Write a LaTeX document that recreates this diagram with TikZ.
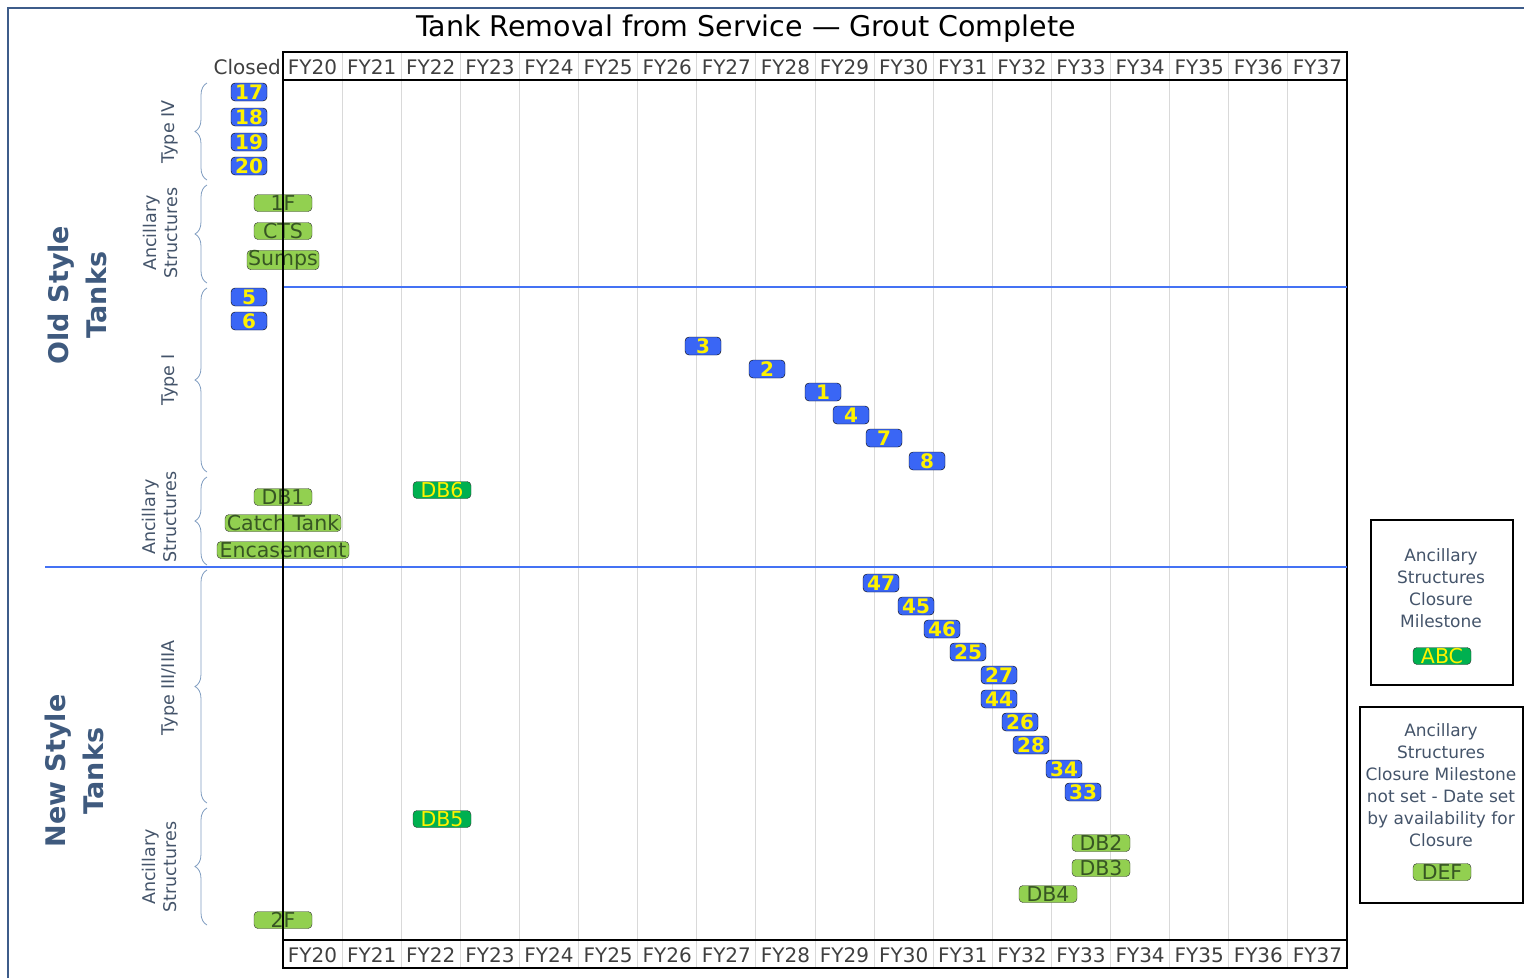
\documentclass[tikz,border=0pt]{standalone}
\usepackage{fontspec}
\setmainfont{DejaVu Sans}
\usepackage{xcolor}
\usetikzlibrary{decorations.pathreplacing}

\definecolor{tankblue}{HTML}{3A66F5}
\definecolor{anclight}{HTML}{92D050}
\definecolor{ancdark}{HTML}{375623}
\definecolor{msgreen}{HTML}{00B050}
\definecolor{rowline}{HTML}{4472F4}
\definecolor{bracecol}{HTML}{7F9CC0}
\definecolor{sidetext}{HTML}{44546A}
\definecolor{bigtext}{HTML}{3F5A7E}
\definecolor{framecol}{HTML}{3E5C8A}
\definecolor{gridcol}{HTML}{D9D9D9}

\begin{document}
\begin{tikzpicture}[
    x=1pt, y=-1pt,
    tank/.style={draw=black, fill=tankblue, text=yellow, rounded corners=4pt, minimum width=36pt, minimum height=18pt, inner sep=0pt, font=\fontsize{20}{20}\selectfont\bfseries},
    anc/.style={draw=black!80, fill=anclight, text=ancdark, rounded corners=4pt, minimum width=58pt, minimum height=17pt, inner sep=0pt, font=\fontsize{20.5}{20}\selectfont},
    msbox/.style={anc, fill=msgreen, text=yellow},
    fylabel/.style={text=black!75, font=\fontsize{20}{20}\selectfont},
    sidelabel/.style={rotate=90, align=center, text=sidetext, font=\fontsize{17.5}{21}\selectfont},
    biglabel/.style={rotate=90, align=center, text=bigtext, font=\fontsize{27}{38}\selectfont\bfseries},
    legtext/.style={align=center, text=sidetext, font=\fontsize{17}{22}\selectfont},
    grp/.style={draw=bracecol, line width=0.8pt, decorate, decoration={brace, amplitude=12pt}},
    hdr/.style={draw=black, line width=1.6pt},
    rowsep/.style={draw=rowline, line width=1.6pt}
]
    \useasboundingbox (0,0) rectangle (1524,978);

    % frame
    \draw[framecol, line width=1.2pt] (8,978) -- (8,8) -- (1524,8);

    % title
    \node[font=\fontsize{28.5}{28.5}\selectfont] (title) at (746,29) {Tank Removal from Service --- Grout Complete};

    % year grid
    \foreach \i in {1,...,17}
        \draw[gridcol, line width=1pt] ({283+59.111*\i},52) -- ({283+59.111*\i},968);
    \draw[hdr] (283,52) rectangle (1347,80);
    \draw[hdr] (283,940) rectangle (1347,968);
    \draw[hdr] (1347,52) -- (1347,968);
    \foreach \y [count=\i from 0] in {20,...,37} {
        \node[fylabel] (top\y) at ({283+59.111*\i+29.56},67) {FY\y};
        \node[fylabel] (bot\y) at ({283+59.111*\i+29.56},955) {FY\y};
    }
    \node[fylabel, anchor=east, inner xsep=2pt] (closed) at (283,67) {Closed};

    % row separators
    \draw[rowsep] (283,287) -- (1347,287);
    \draw[rowsep] (45,567) -- (1347,567);

    % braces and group labels
    \draw[grp] (207,180) -- (207,83);
    \draw[grp] (207,283) -- (207,185);
    \draw[grp] (207,472) -- (207,288);
    \draw[grp] (207,565) -- (207,477);
    \draw[grp] (207,803) -- (207,570);
    \draw[grp] (207,925) -- (207,808);
    \node[sidelabel] (typeiv) at (170,132) {Type IV};
    \node[sidelabel] (ancold1) at (160,233) {Ancillary\\Structures};
    \node[sidelabel] (typei) at (170,380) {Type I};
    \node[sidelabel] (ancold2) at (159,517) {Ancillary\\Structures};
    \node[sidelabel] (typeiii) at (170,688) {Type III/IIIA};
    \node[sidelabel] (ancnew) at (159,867) {Ancillary\\Structures};
    \node[biglabel] (oldstyle) at (77,295) {Old Style\\Tanks};
    \node[biglabel] (newstyle) at (74,771) {New Style\\Tanks};

    % old style tanks
    \node[tank] (t17) at (249,92) {17};
    \node[tank] (t18) at (249,117) {18};
    \node[tank] (t19) at (249,142) {19};
    \node[tank] (t20) at (249,166) {20};
    \node[anc] (a1f) at (283,203) {1F};
    \node[anc] (acts) at (283,231) {CTS};
    \node[anc, minimum width=72pt] (asumps) at (283,260) {Sumps};
    \node[tank] (t5) at (249,297) {5};
    \node[tank] (t6) at (249,321) {6};
    \node[tank] (t3) at (703,346) {3};
    \node[tank] (t2) at (767,369) {2};
    \node[tank] (t1) at (823,392) {1};
    \node[tank] (t4) at (851,415) {4};
    \node[tank] (t7) at (884,438) {7};
    \node[tank] (t8) at (927,461) {8};
    \node[anc] (adb1) at (283,497) {DB1};
    \node[msbox] (adb6) at (442,490) {DB6};
    \node[anc, minimum width=116pt] (acatch) at (283,523) {Catch Tank};
    \node[anc, minimum width=132pt] (aencase) at (283,550) {Encasement};

    % new style tanks
    \node[tank] (t47) at (881,583) {47};
    \node[tank] (t45) at (916,606) {45};
    \node[tank] (t46) at (942,629) {46};
    \node[tank] (t25) at (968,652) {25};
    \node[tank] (t27) at (999,675) {27};
    \node[tank] (t44) at (999,699) {44};
    \node[tank] (t26) at (1020,722) {26};
    \node[tank] (t28) at (1031,745) {28};
    \node[tank] (t34) at (1064,769) {34};
    \node[tank] (t33) at (1083,792) {33};
    \node[msbox] (adb5) at (442,819) {DB5};
    \node[anc] (adb2) at (1101,843) {DB2};
    \node[anc] (adb3) at (1101,868) {DB3};
    \node[anc] (adb4) at (1048,894) {DB4};
    \node[anc] (a2f) at (283,920) {2F};

    % closed line
    \draw[black, line width=1.6pt] (283,52) -- (283,968);

    % legend
    \draw[black, line width=1.6pt] (1371,520) rectangle (1513,685);
    \node[legtext] (leg1) at (1441,588) {Ancillary\\Structures\\Closure\\Milestone};
    \node[msbox] (legabc) at (1442,656) {ABC};
    \draw[black, line width=1.6pt] (1360,707) rectangle (1523,903);
    \node[legtext] (leg2) at (1441,785) {Ancillary\\Structures\\Closure Milestone\\not set - Date set\\by availability for\\Closure};
    \node[anc] (legdef) at (1442,872) {DEF};
\end{tikzpicture}
\end{document}
